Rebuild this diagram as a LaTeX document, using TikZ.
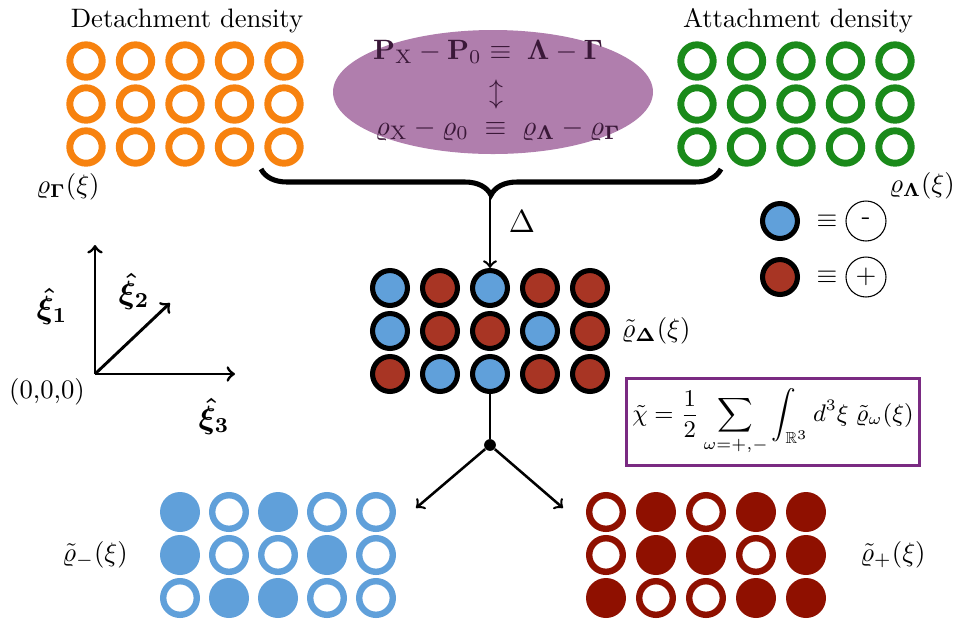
\documentclass[tikz,border=0pt]{standalone}
\usepackage{amsmath,amssymb}
\usepackage{xcolor}
\usepackage{tikz}
\usetikzlibrary{shapes.geometric,decorations.pathreplacing,calc}

\definecolor{detach}{RGB}{247,130,15}
\definecolor{attach}{RGB}{26,138,26}
\definecolor{cminus}{RGB}{96,160,218}
\definecolor{cplus}{RGB}{168,53,36}
\definecolor{cdeep}{RGB}{143,16,0}
\definecolor{bubble}{RGB}{176,126,173}
\definecolor{bubbletext}{RGB}{58,24,56}
\definecolor{boxline}{RGB}{122,42,130}

\tikzset{
  dens/.style={circle, inner sep=0pt, minimum size=12.15pt, line width=2.6pt},
  charge/.style={circle, inner sep=0pt, minimum size=13.1pt, draw=black, line width=1.9pt},
  mring/.style={circle, inner sep=0pt, minimum size=12.6pt, draw=cminus, line width=2.4pt},
  mfull/.style={circle, inner sep=0pt, minimum size=15pt, fill=cminus},
  pring/.style={circle, inner sep=0pt, minimum size=12.6pt, draw=cdeep, line width=2.4pt},
  pfull/.style={circle, inner sep=0pt, minimum size=15pt, fill=cdeep},
  sign/.style={circle, draw, line width=0.4pt, inner sep=0pt, minimum size=15pt},
  flow/.style={->, line width=0.95pt},
  axis/.style={->, line width=1.1pt},
}

\begin{document}
\begin{tikzpicture}[x=0.375pt, y=-0.375pt]
  \useasboundingbox (0,0) rectangle (955,624);

  % detachment / attachment densities
  \node (dtitle) at (187,21) {Detachment density};
  \node (atitle) at (798,21) {Attachment density};
  \foreach \r/\y in {1/61,2/104,3/147}{
    \foreach \x [count=\c] in {86,135.5,185,234.5,284}
      \node[dens, draw=detach] (g-\r-\c) at (\x,\y) {};
    \foreach \x [count=\c] in {697,746.5,796,845.5,895}
      \node[dens, draw=attach] (l-\r-\c) at (\x,\y) {};
  }
  \node (rhog) at (68,187) {$\varrho_{\boldsymbol{\Gamma}}(\xi)$};
  \node (rhol) at (922,186) {$\varrho_{\boldsymbol{\Lambda}}(\xi)$};

  % balance bubble
  \node[ellipse, fill=bubble, minimum width=120pt, minimum height=46.5pt] (bubble) at (493,92) {};
  \node[text=bubbletext, scale=1.05] (peq) at (488,52)
    {$\mathbf{P}_{\mathrm{X}}-\mathbf{P}_0\equiv\;\boldsymbol{\Lambda}-\boldsymbol{\Gamma}$};
  \node[text=bubbletext, scale=1.05] (swap) at (496,94) {$\updownarrow$};
  \node[text=bubbletext, scale=1.05] (req) at (498,130)
    {$\varrho_{\mathrm{X}}-\varrho_0\;\equiv\;\varrho_{\boldsymbol{\Lambda}}-\varrho_{\boldsymbol{\Gamma}}$};

  % brace and difference
  \coordinate (bl) at (261,169);
  \coordinate (br) at (721,169);
  \coordinate (btip) at (490,195);
  \draw[line width=1.9pt, decorate, decoration={brace, amplitude=9.75pt}] (br) -- (bl);
  \node[font=\large] (delta) at (522,222) {$\Delta$};

  % net charge density
  \foreach \x/\f [count=\c] in {390/minus,440/plus,490/minus,540/plus,590/plus}
    \node[charge, fill=c\f] (m-1-\c) at (\x,288) {};
  \foreach \x/\f [count=\c] in {390/minus,440/plus,490/plus,540/minus,590/plus}
    \node[charge, fill=c\f] (m-2-\c) at (\x,331) {};
  \foreach \x/\f [count=\c] in {390/plus,440/minus,490/minus,540/plus,590/plus}
    \node[charge, fill=c\f] (m-3-\c) at (\x,374) {};
  \node (rhod) at (656,331) {$\tilde{\varrho}_{\boldsymbol{\Delta}}(\xi)$};
  \draw[flow] (btip) -- (m-1-3);

  % legend
  \node[charge, fill=cminus] (kminus) at (780,221) {};
  \node (eqm) at (827,221) {$\equiv$};
  \node[sign] (sminus) at (866,221) {-};
  \node[charge, fill=cplus] (kplus) at (780,277) {};
  \node (eqp) at (827,277) {$\equiv$};
  \node[sign] (splus) at (866,277) {$+$};

  % axes
  \coordinate (o) at (95,374);
  \coordinate (e1) at (95,245);
  \coordinate (e2) at (170,303);
  \coordinate (e3) at (235,374);
  \draw[axis] (o) -- (e1);
  \draw[axis] (o) -- (e2);
  \draw[axis] (o) -- (e3);
  \node[font=\large] (l1) at (52,306) {$\boldsymbol{\hat{\xi}_1}$};
  \node[font=\large] (l2) at (134,291) {$\boldsymbol{\hat{\xi}_2}$};
  \node[font=\large] (l3) at (214,416) {$\boldsymbol{\hat{\xi}_3}$};
  \node (orig) at (47,392) {(0,0,0)};

  % susceptibility
  \node[draw=boxline, line width=1.1pt, font=\small, inner sep=1pt,
        minimum width=110pt, minimum height=32.5pt] (chi) at (773,422)
    {$\displaystyle\tilde{\chi}=\frac{1}{2}\sum_{\omega=+,-}\int_{\mathbb{R}^3}d^3\xi\;\tilde{\varrho}_{\omega}(\xi)$};

  % split into signs
  \node[circle, fill, inner sep=0pt, minimum size=4.4pt] (split) at (490,445) {};
  \coordinate (tom) at (416,508);
  \coordinate (top) at (563,508);
  \draw[line width=0.95pt] (m-3-3) -- (split);
  \draw[flow] (split) -- (tom);
  \draw[flow] (split) -- (top);

  % negative part
  \foreach \x/\s [count=\c] in {180/mfull,229/mring,278/mfull,327/mring,376/mring}
    \node[\s] (n-1-\c) at (\x,512) {};
  \foreach \x/\s [count=\c] in {180/mfull,229/mring,278/mring,327/mfull,376/mring}
    \node[\s] (n-2-\c) at (\x,555) {};
  \foreach \x/\s [count=\c] in {180/mring,229/mfull,278/mfull,327/mring,376/mring}
    \node[\s] (n-3-\c) at (\x,598) {};
  \node (rhom) at (95,555) {$\tilde{\varrho}_{-}(\xi)$};

  % positive part
  \foreach \x/\s [count=\c] in {606/pring,656/pfull,706/pring,756/pfull,806/pfull}
    \node[\s] (p-1-\c) at (\x,512) {};
  \foreach \x/\s [count=\c] in {606/pring,656/pfull,706/pfull,756/pring,806/pfull}
    \node[\s] (p-2-\c) at (\x,555) {};
  \foreach \x/\s [count=\c] in {606/pfull,656/pring,706/pring,756/pfull,806/pfull}
    \node[\s] (p-3-\c) at (\x,598) {};
  \node (rhop) at (893,555) {$\tilde{\varrho}_{+}(\xi)$};
\end{tikzpicture}
\end{document}
